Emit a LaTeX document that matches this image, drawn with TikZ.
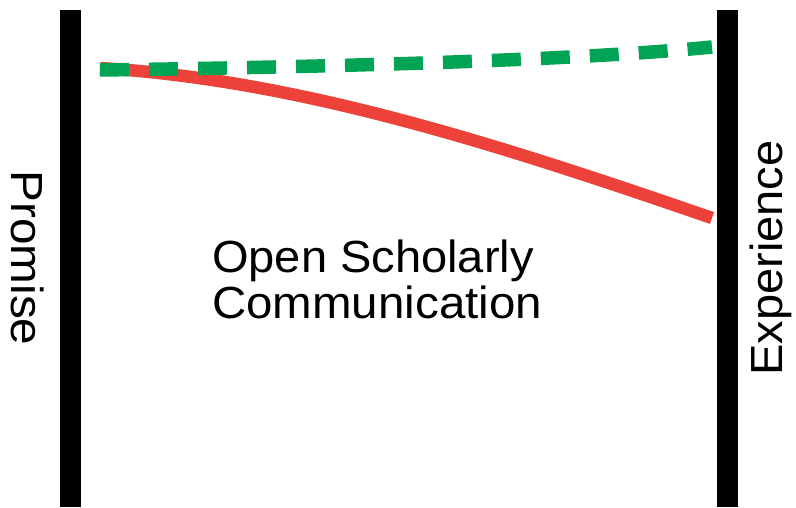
\documentclass[tikz,border=0pt]{standalone}
\usepackage{fontspec}
\setmainfont{Liberation Sans}
\definecolor{barblack}{RGB}{0,0,0}
\definecolor{lgreen}{RGB}{0,164,84}
\definecolor{lred}{RGB}{236,66,58}
\newcommand{\widetext}[2]{\scalebox{#1}[1]{#2}}
\tikzset{
  bar/.style={fill=barblack},
  promiseline/.style={draw=lgreen, line width=13.5pt, dash pattern=on 29pt off 20pt, line cap=butt},
  experienceline/.style={draw=lred, line width=12.5pt, line cap=butt},
  label/.style={inner sep=0pt, font=\fontsize{45}{54}\selectfont, text=black}
}
\begin{document}
\begin{tikzpicture}[x=1pt, y=-1pt]
\useasboundingbox (0,0) rectangle (796,507);
\fill[white] (0,0) rectangle (796,507);
% bars
\fill[bar] (60,10) rectangle (81,507);
\fill[bar] (717,10) rectangle (738,507);
% lines
\coordinate (rs) at (100,68);
\coordinate (re) at (712,218);
\coordinate (gs) at (100,70);
\coordinate (ge) at (712,47);
\draw[experienceline] (rs) .. controls (300,80) and (500,145) .. (re);
\draw[promiseline] (gs) .. controls (400,66) and (600,58) .. (ge);
% labels
\node[label, rotate=-90, anchor=base] (promise) at (12,258) {\widetext{1.06}{Promise}};
\node[label, rotate=90, anchor=base] (experience) at (782,258) {\widetext{1.045}{Experience}};
\node[label, anchor=base west] (osc1) at (212,272) {\widetext{1.045}{Open Scholarly}};
\node[label, anchor=base west] (osc2) at (212,318) {\widetext{1.055}{Communication}};
\end{tikzpicture}
\end{document}
